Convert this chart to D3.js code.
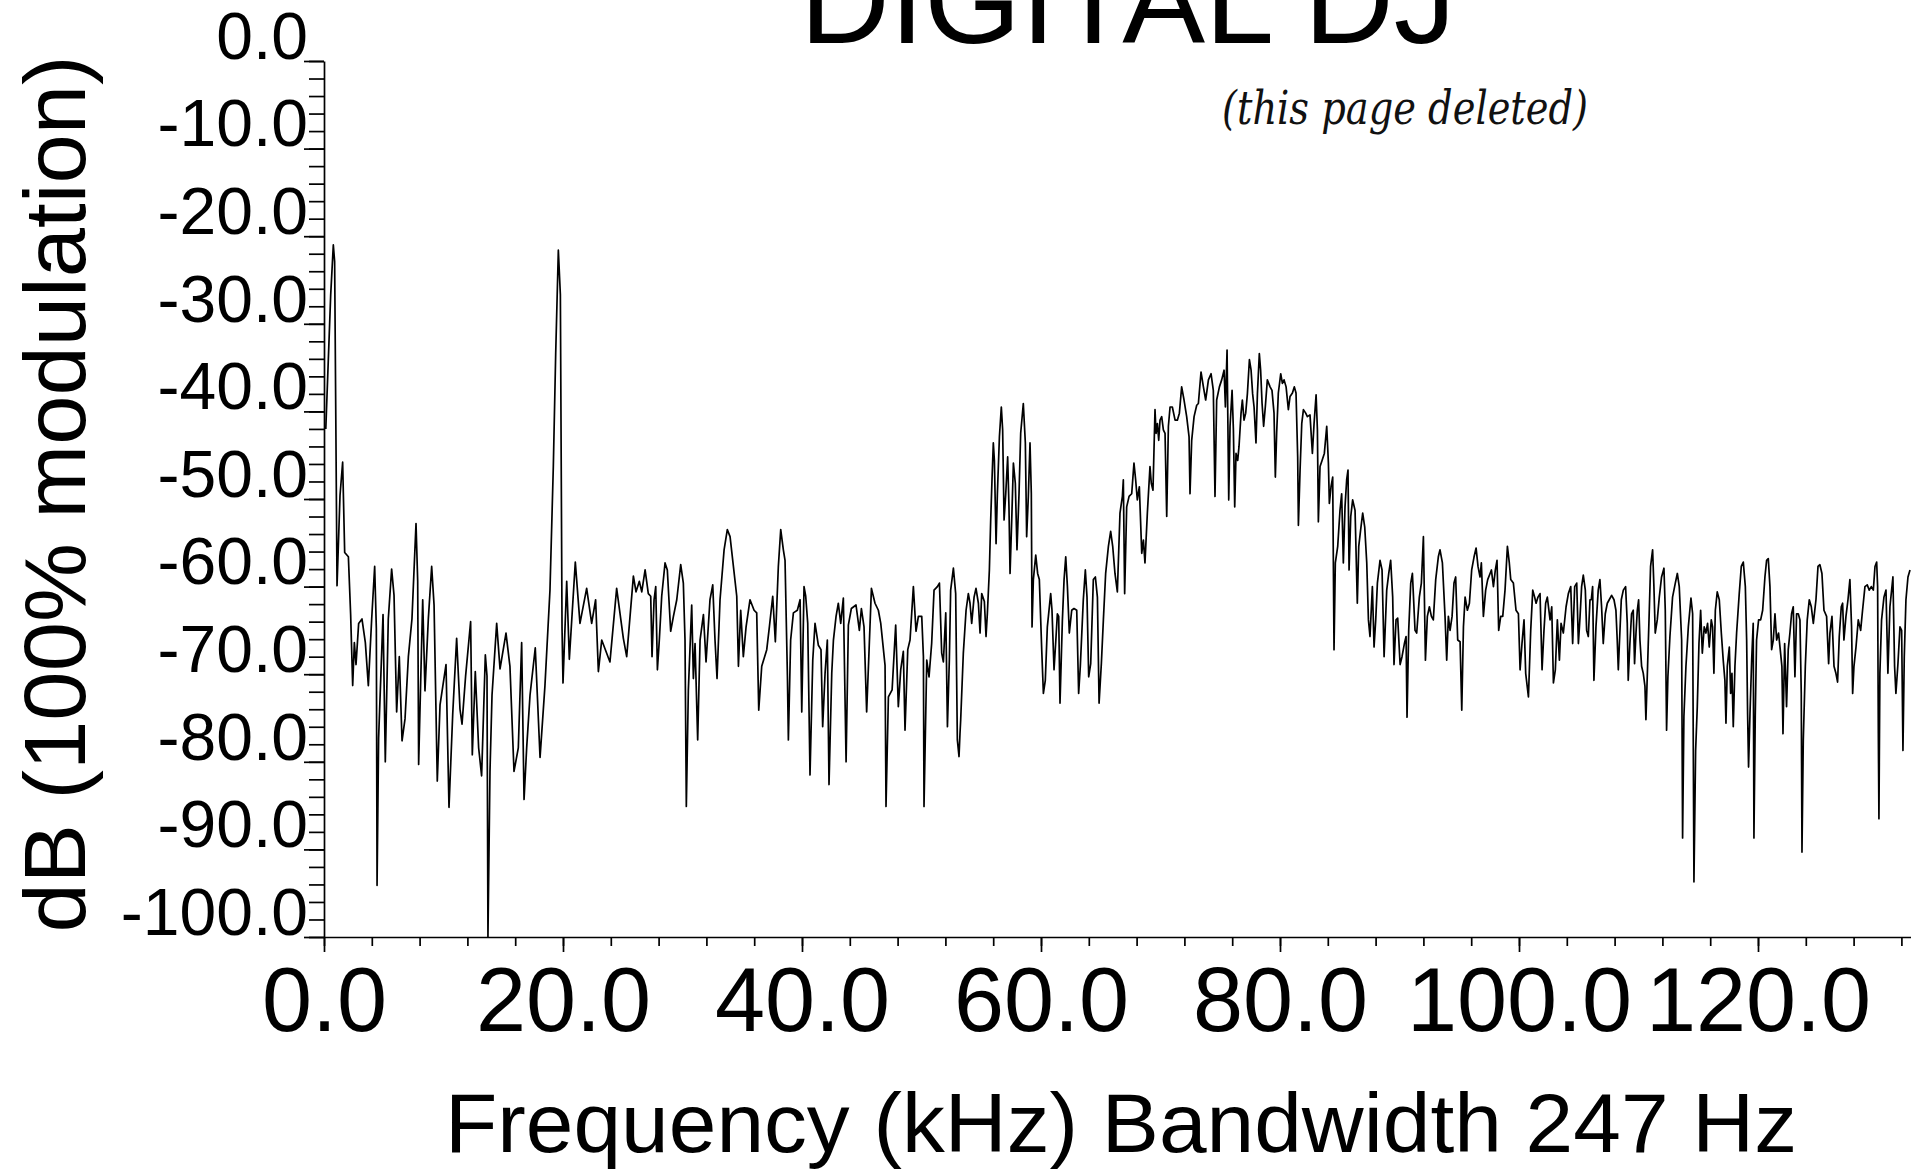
<!DOCTYPE html>
<html lang="en">
<head>
    <meta charset="UTF-8">
    <title>DIGITAL DJ - spectrum</title>
    <script src="https://d3js.org/d3.v7.min.js"></script>
    <style>
        body {
            margin: 0;
            background: #fff;
        }
        svg {
            display: block;
            font-family: "Liberation Sans", Arial, sans-serif;
        }
        .trace {
            fill: none;
            stroke: #000;
            stroke-width: 1.7;
            stroke-linejoin: round;
        }
        .axis path, .axis line {
            stroke: #000;
            stroke-width: 1.7;
        }
        .axis text {
            fill: #000;
            font-family: "Liberation Sans", Arial, sans-serif;
        }
    </style>
</head>
<body>
    <div id="chart"></div>
    <script>
        // Spectrum trace (kHz, dB)
        var freqKHz = [
            0.15, 0.56, 0.78, 0.89, 1.00, 1.09, 1.34, 1.56, 1.73, 2.04,
            2.23, 2.40, 2.54, 2.68, 2.90, 3.18, 3.46, 3.71, 3.99, 4.24,
            4.38, 4.44, 4.57, 4.94, 5.13, 5.38, 5.66, 5.86, 6.08, 6.30,
            6.53, 6.78, 7.06, 7.36, 7.70, 7.84, 7.92, 8.26, 8.45, 8.73,
            9.01, 9.21, 9.48, 9.71, 10.21, 10.46, 10.77, 11.10, 11.38, 11.55,
            11.85, 12.27, 12.41, 12.66, 12.94, 13.19, 13.50, 13.64, 13.72, 13.89,
            14.06, 14.45, 14.73, 15.23, 15.56, 15.90, 16.26, 16.54, 16.74, 16.96,
            17.24, 17.68, 18.08, 18.49, 18.91, 19.19, 19.39, 19.61, 19.78, 19.92,
            20.00, 20.31, 20.53, 21.03, 21.42, 21.98, 22.40, 22.73, 22.96, 23.24,
            23.93, 24.49, 25.05, 25.33,
            25.61, 25.89, 26.11, 26.39, 26.59, 26.87, 27.14, 27.34, 27.45, 27.62,
            27.76, 27.90, 28.06, 28.26, 28.54, 28.73, 29.01, 29.24, 29.52, 29.85,
            30.07, 30.21, 30.32, 30.49, 30.77, 30.91, 31.05, 31.27, 31.47, 31.75,
            31.97, 32.30, 32.53, 32.72, 32.89, 33.14, 33.48, 33.75, 33.98, 34.26,
            34.54, 34.68, 34.87, 35.09, 35.32, 35.65, 35.99, 36.21, 36.38, 36.63,
            37.05, 37.27, 37.55, 37.77, 38.02, 38.22, 38.44, 38.58, 38.78, 38.86,
            39.05, 39.28, 39.61, 39.84, 39.98, 40.17, 40.31, 40.48, 40.67, 40.90,
            41.09, 41.37, 41.59, 41.73, 41.93, 42.12, 42.26, 42.49, 42.63, 42.85,
            43.04, 43.24, 43.46, 43.69, 43.88, 44.13, 44.52, 44.80, 44.97, 45.19,
            45.41, 45.58, 45.81, 46.11, 46.39, 46.59, 46.95, 47.03, 47.23, 47.54,
            47.84, 48.06, 48.26, 48.48, 48.62, 48.85, 49.04, 49.32, 49.54, 49.74,
            50.02, 50.16, 50.21, 50.44, 50.63, 50.85, 51.05, 51.33, 51.50, 51.69,
            51.83, 52.03, 52.17, 52.33, 52.44, 52.67, 52.86, 53.00, 53.14, 53.22,
            53.28, 53.50, 53.73, 53.92, 54.06, 54.20, 54.40, 54.56, 54.76, 54.90,
            55.04, 55.26, 55.40, 55.51, 55.68, 55.79, 55.90, 56.01, 56.10, 56.24,
            56.35, 56.52, 56.68, 56.79, 56.91, 57.05, 57.21, 57.32, 57.41, 57.55,
            57.69, 57.85, 57.99, 58.16, 58.30, 58.52, 58.69, 58.80, 58.94, 59.08,
            59.19, 59.25, 59.36, 59.56, 59.72, 59.86, 60.06, 60.20, 60.36, 60.53,
            60.81, 60.92, 61.09, 61.26, 61.37, 61.48, 61.59, 61.79, 61.93, 62.07,
            62.21, 62.37, 62.57, 62.76, 62.99, 63.15, 63.29, 63.54, 63.71, 63.85,
            63.99, 64.16, 64.38, 64.55, 64.72, 64.86, 65.05, 65.22, 65.41, 65.64,
            65.83, 66.00, 66.19, 66.39, 66.61, 66.81, 66.89, 67.00, 67.17, 67.37,
            67.59, 67.78, 67.92, 68.06, 68.23, 68.43, 68.57, 68.70, 68.90, 69.12,
            69.23, 69.37, 69.54, 69.63, 69.74, 69.85, 69.96, 70.10, 70.24, 70.38,
            70.52, 70.66, 70.80, 70.99, 71.22, 71.41, 71.58, 71.77, 71.97, 72.19,
            72.39, 72.47, 72.61, 72.81, 73.03, 73.17, 73.39, 73.59, 73.78, 74.01,
            74.23, 74.42, 74.56, 74.70, 74.93, 75.12, 75.32, 75.43, 75.57, 75.71,
            75.82, 75.99, 76.10, 76.21, 76.32, 76.46, 76.57, 76.74, 76.85, 76.99,
            77.13, 77.27, 77.44, 77.58, 77.71, 77.83, 77.99, 78.11, 78.27, 78.38,
            78.50, 78.63, 78.77, 78.94, 79.17,
            79.33, 79.50, 79.61, 79.72, 79.86, 80.06, 80.20, 80.34, 80.51, 80.70,
            80.84, 81.04, 81.20, 81.34, 81.48, 81.54, 81.68, 81.82, 81.96, 82.15,
            82.29, 82.51, 82.71, 82.85, 83.02, 83.13, 83.21, 83.35, 83.52, 83.71,
            83.91, 84.05, 84.13, 84.27, 84.41, 84.52, 84.63, 84.83, 85.02, 85.16,
            85.30, 85.44, 85.58, 85.69, 85.78, 85.92, 86.08, 86.28, 86.47, 86.59,
            86.75, 86.92, 87.09, 87.26, 87.40, 87.53, 87.73, 87.87, 88.01, 88.15,
            88.37, 88.54, 88.71, 88.93, 89.10, 89.26, 89.43, 89.54, 89.71, 89.85,
            90.05, 90.21, 90.41, 90.55, 90.63, 90.77, 90.94, 91.08, 91.30, 91.44,
            91.66, 91.83, 92.00, 92.17, 92.33, 92.50, 92.67, 92.83, 93.03, 93.25,
            93.39, 93.59, 93.81, 93.95, 94.09, 94.23, 94.40, 94.56, 94.70, 94.87,
            95.07, 95.21, 95.35, 95.49, 95.68, 95.85, 96.04, 96.24, 96.41, 96.57,
            96.74, 96.85, 97.02, 97.21, 97.38, 97.58, 97.69, 97.86, 98.02, 98.16,
            98.30, 98.47, 98.64, 98.83, 99.03, 99.19, 99.31, 99.53, 99.75, 99.95,
            100.09, 100.25, 100.42, 100.56, 100.79, 100.98, 101.15, 101.31, 101.43, 101.59,
            101.76, 101.93, 102.09, 102.23, 102.37, 102.60, 102.74, 102.88, 103.04, 103.21,
            103.38, 103.52, 103.71, 103.94, 104.13, 104.33, 104.49, 104.66, 104.83, 104.97,
            105.11, 105.24, 105.38, 105.55, 105.66, 105.80, 105.94,
            106.05, 106.16, 106.27, 106.44, 106.63, 106.77, 106.91, 107.05, 107.22, 107.39,
            107.55, 107.75, 107.95, 108.11, 108.22, 108.31, 108.39, 108.56, 108.73, 108.92,
            109.06, 109.14, 109.28, 109.42, 109.56, 109.67, 109.79, 109.90, 110.01, 110.12,
            110.26, 110.40, 110.54, 110.62, 110.76, 110.87, 111.01, 111.18, 111.29, 111.40,
            111.57, 111.74, 111.93, 112.13, 112.24, 112.35, 112.46, 112.63, 112.85, 113.08,
            113.25, 113.41, 113.61, 113.69, 113.80, 113.97, 114.17, 114.39, 114.53, 114.64,
            114.78, 114.92, 115.06, 115.20, 115.34, 115.50, 115.64, 115.78, 115.92, 116.09,
            116.20, 116.31, 116.43, 116.59, 116.76, 116.93, 117.09, 117.23, 117.32, 117.43,
            117.60, 117.71, 117.82, 117.93, 118.07, 118.21, 118.43, 118.60, 118.77, 118.94,
            119.05, 119.13, 119.21, 119.33, 119.47, 119.60, 119.66, 119.77, 119.88, 120.05,
            120.22, 120.39, 120.58, 120.72, 120.86, 121.00, 121.14, 121.28, 121.42, 121.56,
            121.72, 121.84, 122.00, 122.09, 122.23, 122.39, 122.53, 122.67, 122.81, 122.95,
            123.09, 123.23, 123.37, 123.51, 123.62, 123.68, 123.79, 123.96, 124.12, 124.29,
            124.46, 124.63, 124.85, 125.02, 125.18, 125.35, 125.52, 125.74, 125.91, 126.02,
            126.19, 126.36, 126.52, 126.66, 126.80, 126.97, 127.08, 127.19, 127.36, 127.53,
            127.69, 127.83, 127.92, 128.03, 128.20, 128.39, 128.59, 128.75, 128.95, 129.14,
            129.31, 129.48, 129.65, 129.79, 129.93, 130.01, 130.07, 130.12, 130.20, 130.34,
            130.54, 130.71, 130.87, 131.04, 131.21, 131.29, 131.43, 131.54, 131.71, 131.88,
            132.02, 132.13, 132.24, 132.38, 132.55, 132.72
        ];
        var levelDb = [
            -42.0, -26.7, -21.0, -22.9, -43.0, -59.9, -49.6, -45.8, -56.1, -56.6,
            -63.2, -71.3, -66.4, -68.9, -64.2, -63.7, -66.4, -71.3, -63.7, -57.7,
            -64.8, -94.1, -77.3, -63.2, -80.0, -63.7, -58.0, -61.0, -74.3, -68.0,
            -77.6, -75.1, -68.0, -63.7, -52.8, -59.4, -80.3, -61.5, -71.9, -63.7,
            -57.7, -62.1, -82.2, -73.5, -68.9, -85.2, -74.6, -65.9, -74.0, -75.7,
            -70.2, -64.0, -79.2, -69.7, -78.4, -81.6, -67.8, -70.2, -100.0, -81.1,
            -72.4, -64.2, -69.4, -65.3, -69.1, -81.1, -78.4, -66.4, -84.3, -78.4,
            -72.4, -67.0, -79.5, -71.3, -60.4, -46.3, -33.3, -21.6, -26.7, -64.8,
            -71.0, -59.4, -68.3, -57.2, -64.2, -60.2, -64.2, -61.5, -69.7, -66.1,
            -68.6, -60.2, -65.9, -68.0,
            -63.4, -58.8, -60.6, -59.4, -60.6, -58.1, -60.8, -61.1, -68.0, -61.5,
            -60.0, -69.5, -66.1, -61.1, -57.3, -58.1, -65.1, -63.4, -61.5, -57.5,
            -59.6, -66.1, -85.1, -71.8, -62.1, -70.5, -66.5, -77.5, -66.1, -63.2,
            -68.6, -61.5, -59.8, -66.1, -70.5, -61.5, -55.8, -53.5, -54.3, -57.7,
            -61.1, -69.1, -62.7, -68.0, -64.6, -61.5, -62.7, -63.0, -74.1, -69.1,
            -67.2, -64.6, -61.1, -66.3, -57.7, -53.5, -55.8, -57.0, -70.3, -77.5,
            -66.1, -63.0, -62.7, -61.5, -74.3, -60.0, -61.1, -64.2, -81.5, -68.4,
            -64.2, -66.7, -67.2, -76.0, -69.9, -66.1, -82.6, -69.9, -66.1, -63.4,
            -61.9, -64.2, -61.3, -80.0, -64.4, -62.5, -62.1, -65.0, -62.5, -64.6,
            -74.3, -68.4, -60.2, -61.9, -62.7, -64.2, -69.0, -85.1, -72.6, -71.8,
            -64.4, -73.7, -69.5, -67.4, -76.4, -67.2, -66.1, -60.0, -65.1, -63.4,
            -63.4, -68.0, -85.1, -68.4, -70.3, -66.5, -60.4, -60.0, -59.6, -67.6,
            -68.6, -63.0, -76.0, -68.4, -60.4, -57.9, -60.8, -77.5, -79.4, -76.8,
            -75.2, -67.6, -62.7, -60.8, -61.9, -64.2, -61.2, -60.2, -61.9, -65.3,
            -60.8, -61.7, -65.7, -63.1, -58.1, -52.4, -47.8, -43.6, -45.6, -55.1,
            -49.4, -42.9, -39.5, -42.1, -52.4, -49.4, -45.2, -50.9, -58.5, -52.4,
            -45.9, -48.2, -55.8, -49.4, -42.5, -39.1, -43.6, -54.3, -49.7, -43.6,
            -49.4, -64.6, -59.2, -56.4, -58.5, -59.2, -67.2, -72.2, -70.7, -64.6,
            -60.8, -62.7, -69.5, -65.7, -63.1, -63.4, -73.3, -63.8, -59.2, -56.6,
            -60.0, -65.3, -62.7, -62.5, -62.7, -72.2, -69.1, -61.5, -58.1, -61.2,
            -70.3, -68.8, -59.2, -58.9, -61.2, -73.3, -68.8, -63.8, -58.5, -55.4,
            -53.7, -55.4, -58.5, -60.6, -51.6, -49.7, -47.8, -60.8, -50.9, -49.7,
            -49.4, -45.9, -47.8, -50.1, -48.6, -56.2, -54.7, -57.3, -51.6, -46.3,
            -48.2, -49.0, -39.8, -42.5, -41.4, -43.3, -41.0, -40.6, -42.1, -42.5,
            -52.0, -41.7, -39.5, -39.5, -41.0, -41.0, -40.2, -37.2, -38.7, -40.6,
            -42.9, -49.4, -43.3, -40.6, -39.3, -39.1, -35.5, -37.2, -38.7, -36.4,
            -35.7, -37.6, -49.7, -38.7, -37.2, -36.4, -35.3, -39.5, -33.0, -50.1,
            -41.7, -37.6, -42.1, -50.9, -44.8, -45.6, -44.0, -40.2, -38.7, -41.0,
            -40.2, -38.0, -34.1, -35.3, -38.0, -39.5, -43.6, -38.0, -33.4, -35.3,
            -39.1, -41.7, -39.5, -36.4, -37.2,
            -37.6, -40.2, -47.5, -42.5, -37.9, -35.7, -36.8, -36.4, -37.2, -39.8,
            -38.3, -37.9, -37.2, -37.9, -45.2, -53.0, -46.7, -41.4, -39.8, -40.2,
            -40.6, -40.4, -44.8, -41.4, -38.1, -42.1, -52.6, -46.3, -45.6, -44.8,
            -41.7, -45.9, -50.5, -48.6, -47.5, -67.2, -57.3, -55.4, -51.3, -49.4,
            -57.3, -50.9, -47.8, -46.7, -58.1, -52.0, -50.1, -51.3, -61.9, -55.4,
            -53.5, -51.6, -53.2, -57.3, -63.8, -65.7, -60.0, -66.9, -63.8, -59.6,
            -57.0, -58.1, -68.0, -60.4, -58.5, -57.0, -61.2, -68.9, -63.8, -63.6,
            -68.9, -68.0, -66.5, -65.7, -74.9, -65.0, -59.6, -58.5, -65.0, -65.3,
            -61.2, -59.6, -54.3, -68.4, -63.4, -62.3, -63.4, -63.8, -59.2, -56.6,
            -55.8, -57.3, -63.4, -68.4, -63.4, -65.0, -63.4, -59.6, -58.9, -66.1,
            -66.3, -74.1, -64.6, -61.2, -62.7, -61.9, -58.1, -56.6, -55.6, -57.7,
            -58.9, -57.3, -63.4, -60.4, -59.2, -58.5, -58.1, -60.0, -58.1, -57.0,
            -65.0, -63.4, -63.4, -60.4, -55.4, -57.3, -59.2, -59.6, -62.7, -63.1,
            -69.5, -66.5, -63.8, -69.9, -72.6, -65.0, -60.4, -61.2, -61.9, -61.2,
            -60.8, -69.5, -65.0, -61.9, -61.2, -63.8, -62.3, -71.0, -69.5, -63.8,
            -68.4, -64.2, -65.3, -62.3, -60.8, -60.0, -66.5, -60.0, -59.6, -66.5,
            -63.4, -60.0, -58.7, -60.4, -65.0, -65.7, -61.5,
            -61.5, -60.0, -70.7, -64.6, -60.4, -59.2, -62.3, -66.5, -63.1, -61.9,
            -61.5, -61.0, -61.5, -62.7, -66.1, -69.5, -66.9, -61.5, -60.4, -60.0,
            -64.2, -70.7, -66.5, -63.1, -62.7, -68.8, -65.3, -62.7, -61.5, -66.1,
            -69.1, -69.9, -71.4, -75.2, -69.1, -64.2, -57.7, -55.8, -60.0, -65.3,
            -63.8, -61.2, -58.9, -57.9, -62.7, -76.4, -70.3, -65.7, -61.2, -59.6,
            -58.5, -60.0, -66.1, -88.7, -74.8, -69.1, -64.6, -61.3, -63.1, -93.7,
            -78.7, -73.7, -66.5, -62.7, -67.6, -64.6, -65.3, -64.2, -66.9, -63.8,
            -64.6, -69.9, -62.7, -60.6, -61.5, -65.3, -68.4, -70.7, -75.6, -69.1,
            -66.9, -72.2, -69.9, -76.0, -69.1, -65.3, -60.8, -57.7, -57.2, -60.0,
            -66.1, -74.5, -80.6, -74.5, -68.4, -64.2, -88.7, -74.8, -66.1, -63.8,
            -63.8, -62.7, -58.9, -57.0, -56.8, -60.0, -67.2, -66.1, -63.1, -66.1,
            -65.3, -66.9, -69.1, -76.8, -66.5, -73.7, -67.2, -65.3, -63.1, -62.3,
            -70.3, -63.1, -63.1, -63.8, -72.2, -90.3, -77.5, -69.1, -63.8, -61.5,
            -62.3, -64.2, -61.5, -57.7, -57.5, -58.5, -62.7, -63.4, -68.8, -65.3,
            -63.4, -69.1, -69.9, -70.9, -65.7, -62.3, -61.9, -66.1, -63.4, -61.5,
            -59.2, -64.6, -72.2, -69.1, -66.9, -63.8, -65.0, -62.7, -60.0, -59.8,
            -60.4, -60.0, -60.4, -57.7, -57.2, -60.0, -76.8, -86.5, -69.9, -63.8,
            -61.2, -60.4, -69.9, -62.3, -60.0, -58.9, -69.1, -72.2, -68.8, -64.6,
            -65.0, -78.7, -68.0, -61.5, -58.9, -58.1
        ];

        // Axis ticks and texts
        var yTicks = [0, -10, -20, -30, -40, -50, -60, -70, -80, -90, -100];
        var yMinorTicks = d3.range(0, -101, -2);
        var xTicks = [0, 20, 40, 60, 80, 100, 120];
        var xMinorTicks = d3.range(0, 134, 4);
        var titleText = "DIGITAL DJ";
        var noteText = "(this page deleted)";
        var xTitle = "Frequency (kHz) Bandwidth 247 Hz";
        var yTitle = "dB (100% modulation)";

        var width = 1911, height = 1171;
        var margin = {top: 61, left: 324},
            pxPerKHz = 11.95,
            plotH = 876;

        var svg = d3.select("#chart").append("svg")
            .attr("width", width)
            .attr("height", height);

        svg.append("rect").attr("width", width).attr("height", height).attr("fill", "#fff");

        var x = d3.scaleLinear().domain([0, 133]).range([margin.left, margin.left + 133 * pxPerKHz]);
        var y = d3.scaleLinear().domain([0, -100]).range([margin.top, margin.top + plotH]);

        var fmt = function(d) { return d.toFixed(1); };

        // Y axis: minor ticks every 2 dB, labelled ticks every 10 dB
        svg.append("g")
            .attr("class", "axis")
            .attr("transform", "translate(" + x(0) + ",0)")
            .call(d3.axisLeft(y).tickValues(yMinorTicks).tickSize(15).tickSizeOuter(0).tickFormat(""))
            .call(function(g) { g.select(".domain").remove(); });

        var yAxisG = svg.append("g")
            .attr("class", "axis")
            .attr("transform", "translate(" + x(0) + ",0)")
            .call(d3.axisLeft(y).tickValues(yTicks).tickSize(20).tickSizeOuter(0).tickFormat(fmt));
        yAxisG.selectAll("text")
            .attr("x", -16)
            .attr("dy", "-0.04em")
            .style("font-size", "66px");

        // X axis: minor ticks every 4 kHz, labelled every 20 kHz
        svg.append("g")
            .attr("class", "axis")
            .attr("transform", "translate(0," + y(-100) + ")")
            .call(d3.axisBottom(x).tickValues(xMinorTicks).tickSize(9).tickSizeOuter(0).tickFormat(""))
            .call(function(g) { g.select(".domain").remove(); });

        var xAxisG = svg.append("g")
            .attr("class", "axis")
            .attr("transform", "translate(0," + y(-100) + ")")
            .call(d3.axisBottom(x).tickValues(xTicks).tickSize(15).tickSizeOuter(0).tickFormat(fmt));
        xAxisG.selectAll("text")
            .attr("y", 94)
            .attr("dy", 0)
            .style("font-size", "90px");

        // the trace
        var line = d3.line()
            .x(function(d) { return x(d[0]); })
            .y(function(d) { return y(d[1]); });

        svg.append("path")
            .datum(d3.zip(freqKHz, levelDb))
            .attr("class", "trace")
            .attr("d", line);

        // Texts (title is cut by the top edge, as on the scan)
        svg.append("text")
            .attr("x", 1128)
            .attr("y", 43)
            .attr("text-anchor", "middle")
            .attr("font-size", 122)
            .attr("textLength", 656)
            .attr("lengthAdjust", "spacingAndGlyphs")
            .text(titleText);

        svg.append("text")
            .attr("x", 1405)
            .attr("y", 124)
            .attr("text-anchor", "middle")
            .attr("font-family", "'DejaVu Serif', serif")
            .attr("font-style", "italic")
            .attr("font-size", 46)
            .attr("fill", "#111")
            .attr("textLength", 366)
            .attr("lengthAdjust", "spacingAndGlyphs")
            .text(noteText);

        svg.append("text")
            .attr("x", 1121)
            .attr("y", 1152)
            .attr("text-anchor", "middle")
            .attr("font-size", 84)
            .attr("textLength", 1352)
            .attr("lengthAdjust", "spacingAndGlyphs")
            .text(xTitle);

        svg.append("text")
            .attr("transform", "translate(85,494) rotate(-90)")
            .attr("text-anchor", "middle")
            .attr("font-size", 87)
            .attr("textLength", 877)
            .attr("lengthAdjust", "spacingAndGlyphs")
            .text(yTitle);
    </script>
</body>
</html>
